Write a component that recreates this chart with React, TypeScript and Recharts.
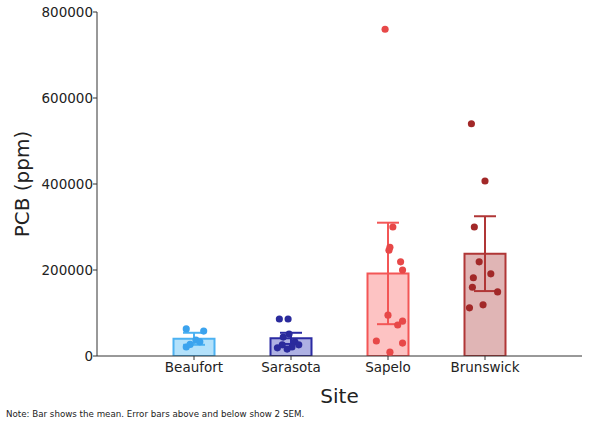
import { Bar, Cell, ComposedChart, ErrorBar, Scatter, XAxis, YAxis, ZAxis } from 'recharts';

const SITES = ['Beaufort', 'Sarasota', 'Sapelo', 'Brunswick'];
const MEANS = [40000, 41000, 192000, 238000];
const TWO_SEM = [14000, 13000, 118000, 87000];
const Y_TICKS = [0, 200000, 400000, 600000, 800000];

// individual samples per site, with the horizontal jitter seen in the picture (in site units)
const BEAUFORT_PCB = [63000, 58000, 21000, 37000, 33000, 27000];
const BEAUFORT_JITTER = [-0.08, 0.1, -0.08, 0.02, 0.06, -0.04];
const SARASOTA_PCB = [86000, 86000, 51000, 44000, 33000, 26000, 21000, 26000, 19000, 16000];
const SARASOTA_JITTER = [-0.12, -0.03, -0.02, -0.08, 0.04, -0.09, 0.01, 0.08, -0.14, -0.04];
const SAPELO_PCB = [760000, 300000, 253000, 246000, 219000, 200000, 95000, 81000, 72000, 35000, 30000, 9000];
const SAPELO_JITTER = [-0.03, 0.05, 0.02, 0.01, 0.13, 0.15, 0, 0.15, 0.1, -0.12, 0.15, 0.02];
const BRUNSWICK_PCB = [540000, 407000, 300000, 219000, 191000, 182000, 160000, 149000, 119000, 112000];
const BRUNSWICK_JITTER = [-0.14, 0, -0.11, -0.06, 0.06, -0.12, -0.13, 0.13, -0.02, -0.16];

const FILLS = ['#b3e1fb', '#aeb1e3', '#fdc3c3', '#e0b5b5'];
const STROKES = ['#4db2f2', '#2b2ba3', '#f35656', '#b03636'];
const DOTS = ['#3ba3ee', '#2a2a9c', '#e74848', '#a22828'];

const ERR_KEYS = ['errBeaufort', 'errSarasota', 'errSapelo', 'errBrunswick'];

const barData = SITES.map((site, i) => ({
  x: i + 1,
  site,
  mean: MEANS[i],
  [ERR_KEYS[i]]: TWO_SEM[i],
}));

const toPoints = (site: number, values: number[], jitter: number[]) =>
  values.map((v, i) => ({ x: site + jitter[i], y: v }));

const pointSets = [
  toPoints(1, BEAUFORT_PCB, BEAUFORT_JITTER),
  toPoints(2, SARASOTA_PCB, SARASOTA_JITTER),
  toPoints(3, SAPELO_PCB, SAPELO_JITTER),
  toPoints(4, BRUNSWICK_PCB, BRUNSWICK_JITTER),
];

const font = 'DejaVu Sans, sans-serif';

export default function App() {
  return (
    <div style={{ position: 'fixed', left: 0, top: 0, width: 590, height: 431, background: '#fff', fontFamily: font }}>
      <ComposedChart
        width={590}
        height={431}
        data={barData}
        margin={{ top: 12, right: 8, bottom: 0, left: 0 }}
        style={{ fontFamily: font }}
      >
        <XAxis
          dataKey="x"
          type="number"
          domain={[0, 5]}
          ticks={[1, 2, 3, 4]}
          allowDataOverflow
          tickFormatter={(v: number) => SITES[v - 1] ?? ''}
          height={75}
          tickSize={4}
          tickMargin={2}
          stroke="#333"
          tick={{ fill: '#222', fontSize: 13.5 }}
          label={{ value: 'Site', position: 'insideTop', offset: 33, fontSize: 20, fill: '#222' }}
        />
        {/* separate hidden axis so the bar width is not squeezed by the jittered points */}
        <XAxis xAxisId="bars" dataKey="x" type="number" domain={[0, 5]} allowDataOverflow hide />
        <YAxis
          type="number"
          domain={[0, 800000]}
          ticks={Y_TICKS}
          allowDataOverflow
          width={97}
          tickSize={4}
          tickMargin={0}
          stroke="#333"
          tick={{ fill: '#222', fontSize: 13.5 }}
          label={{
            value: 'PCB (ppm)',
            angle: -90,
            position: 'insideLeft',
            offset: 22,
            fontSize: 20,
            fill: '#222',
            style: { textAnchor: 'middle' },
          }}
        />
        <ZAxis range={[40, 40]} />
        <Bar xAxisId="bars" dataKey="mean" barSize={41} strokeWidth={2} isAnimationActive={false}>
          {barData.map((d, i) => (
            <Cell key={d.site} fill={FILLS[i]} stroke={STROKES[i]} />
          ))}
          {ERR_KEYS.map((k, i) => (
            <ErrorBar key={k} dataKey={k} width={11} strokeWidth={2} stroke={STROKES[i]} />
          ))}
        </Bar>
        {pointSets.map((pts, i) => (
          <Scatter
            key={SITES[i]}
            data={pts}
            dataKey="y"
            fill={DOTS[i]}
            isAnimationActive={false}
          />
        ))}
      </ComposedChart>
      <div style={{ position: 'absolute', left: 6, top: 409, fontSize: 8.7, color: '#222', whiteSpace: 'nowrap' }}>
        Note: Bar shows the mean. Error bars above and below show 2 SEM.
      </div>
    </div>
  );
}
